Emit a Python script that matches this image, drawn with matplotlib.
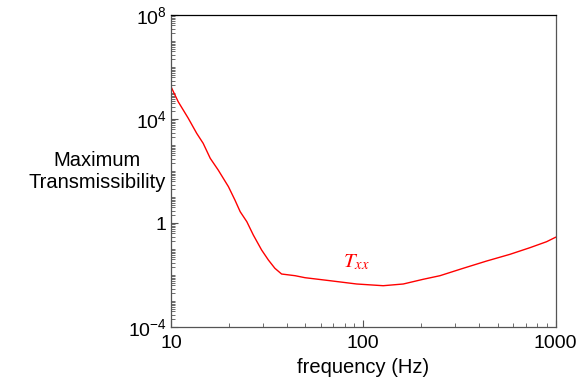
import matplotlib
matplotlib.use("Agg")
import matplotlib.pyplot as plt
from matplotlib.ticker import FixedLocator, FixedFormatter, LogLocator, NullFormatter
import numpy as np

freq = [10, 10.9, 12.3, 13.6, 14.7, 16.0, 17.6, 19.9, 21.5, 22.9, 24.8, 26.8, 29.6, 32.1,
        34.7, 37.6, 44.2, 49.8, 67.1, 92.4, 127, 161.5, 205, 250.6, 331, 438.5, 580,
        736, 899, 1000]
log_T = [5.242, 4.665, 4.027, 3.45, 3.065, 2.488, 2.038, 1.396, 0.885, 0.435, 0.05,
         -0.462, -1.038, -1.423, -1.742, -1.962, -2.027, -2.104, -2.219, -2.346, -2.412,
         -2.346, -2.165, -2.027, -1.742, -1.462, -1.204, -0.95, -0.719, -0.55]
T = [10 ** v for v in log_T]

ytick_vals = [1e-4, 1, 1e4, 1e8]
ytick_labels = [r"$10^{-4}$", "1", r"$10^{4}$", r"$10^{8}$"]
xtick_vals = [10, 100, 1000]
xtick_labels = ["10", "100", "1000"]

plt.rcParams['font.family'] = ['Liberation Sans', 'DejaVu Sans']
plt.rcParams['mathtext.fontset'] = 'custom'
plt.rcParams['mathtext.rm'] = 'Liberation Sans'
plt.rcParams['mathtext.it'] = 'Liberation Sans:italic'

fig = plt.figure(figsize=(5.81, 3.83), dpi=100)
ax = fig.add_axes([171/581, 1-327/383, (555.5-171)/581, (327-15)/383])
ax.plot(freq, T, color='#ff0000', lw=1.0)
ax.set_xscale('log')
ax.set_yscale('log')
ax.set_xlim(10, 1000)
ax.set_ylim(1e-4, 1e8)

ax.yaxis.set_major_locator(FixedLocator(ytick_vals))
ax.yaxis.set_major_formatter(FixedFormatter(ytick_labels))
ax.yaxis.set_minor_locator(LogLocator(base=10, subs=np.arange(1, 10), numticks=100))
ax.yaxis.set_minor_formatter(NullFormatter())
ax.xaxis.set_major_locator(FixedLocator(xtick_vals))
ax.xaxis.set_major_formatter(FixedFormatter(xtick_labels))
ax.xaxis.set_minor_locator(LogLocator(base=10, subs=np.arange(2, 10), numticks=100))
ax.xaxis.set_minor_formatter(NullFormatter())

ax.tick_params(which='both', direction='in', top=False, right=False, labelsize=14, color='#555555')
ax.tick_params(which='major', length=5, width=0.8)
ax.tick_params(axis='y', which='major', pad=3)
ax.tick_params(axis='x', which='major', pad=6)
ax.tick_params(which='minor', length=3, width=0.6)
for s in ax.spines.values():
    s.set_color('#555555')
    s.set_linewidth(0.9)
ax.spines['top'].set_color('black')

ax.set_xlabel('frequency (Hz)', fontsize=14.5, labelpad=4)
fig.text(97/581, 1-171/383, 'Maximum\nTransmissibility', ha='center', va='center',
         fontsize=14.5, linespacing=1.2)
ax.text(91.6, 0.0316, r'$T_{xx}$', color='#ff0000', fontsize=15, ha='center', va='center',
        math_fontfamily='stix')

fig.savefig('out.png', dpi=100)
